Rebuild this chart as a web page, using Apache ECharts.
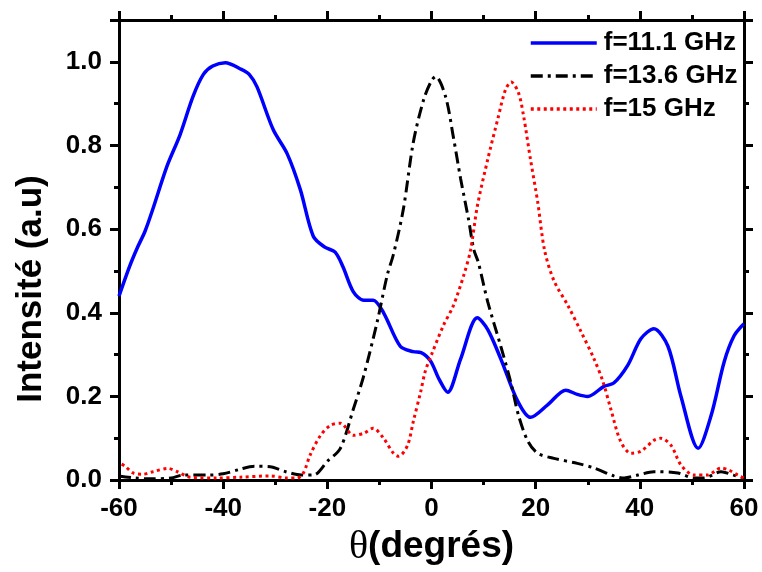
<!DOCTYPE html>
<html>
<head>
<meta charset="utf-8">
<script src="https://cdn.jsdelivr.net/npm/echarts@6/dist/echarts.min.js"></script>
<style>
html,body{margin:0;padding:0;background:#fff;}
#chart{width:762px;height:572px;}
</style>
</head>
<body>
<div id="chart"></div>
<script>
var seriesNames = ['f=11.1 GHz', 'f=13.6 GHz', 'f=15 GHz'];
var xTicks = [-60, -40, -20, 0, 20, 40, 60];
var yTicks = [0.0, 0.2, 0.4, 0.6, 0.8, 1.0];

var thetaA = [-60,-58,-56.5,-55,-53.5,-50.8,-48.3,-45.8,-43.8,-42,-39.6,-36.5,-35,-33.5,-30.4,-27.7,-25.2,-22.7,-20.5,-18.5,-17,-15,-13,-11.2,-9.2,-6,-3.5,-2,-0.2,1.5,3.1,5.6,8.8,10.8,13.3,16.5,19,22.3,25.8,28,30,33.1,35,37.7,40.2,42.7,45.4,47.9,51.2,53.7,56.2,58.1,60];
var valA = [0.44,0.51,0.555,0.595,0.648,0.75,0.825,0.917,0.97,0.99,0.998,0.982,0.97,0.94,0.838,0.78,0.695,0.583,0.557,0.545,0.51,0.45,0.43,0.43,0.40,0.32,0.307,0.305,0.285,0.24,0.21,0.29,0.388,0.36,0.29,0.19,0.15,0.18,0.215,0.205,0.2,0.224,0.232,0.275,0.338,0.362,0.32,0.2,0.076,0.155,0.283,0.345,0.374];

var thetaB = [-60,-57,-54,-50,-47.7,-43,-40,-37,-34,-31,-28,-25,-22.5,-20,-17.5,-15,-13,-10.4,-8.5,-7.3,-5.4,-3.5,-1.5,0,0.8,2.7,4.2,5.6,7.1,8.1,9,10.8,13.3,15.2,16.7,18.5,20.4,23.5,28,31.2,35,37,39.6,42.7,47.3,50.4,52.3,55.6,58,60];
var valB = [0.01,0.005,0.003,0.005,0.012,0.012,0.015,0.025,0.033,0.032,0.02,0.012,0.013,0.045,0.076,0.17,0.25,0.38,0.49,0.54,0.648,0.807,0.91,0.955,0.965,0.917,0.82,0.72,0.624,0.552,0.52,0.426,0.32,0.235,0.155,0.093,0.064,0.052,0.04,0.029,0.01,0.005,0.012,0.02,0.017,0.005,0.005,0.02,0.012,0.005];

var thetaC = [-59.5,-58.8,-57.3,-55.4,-53.5,-50.6,-48.8,-46.3,-41.2,-36.7,-31,-27.7,-25.8,-24.6,-23.3,-21.3,-19.4,-17.5,-15,-13,-11.2,-9.2,-7.3,-6.3,-4.6,-3.5,-2.1,-1.2,0,2.3,4.2,6.2,7.5,8.8,10.8,12.7,14.2,15.3,16.7,17.7,19,20.4,21.7,23.5,26.2,28.7,31.2,32.9,34.4,36.3,38.3,40.2,42.7,44,46,47.9,50.4,53,55.6,57.1,58.8,60];
var valC = [0.038,0.033,0.017,0.014,0.02,0.028,0.02,0.007,0.005,0.007,0.01,0.005,0.005,0.017,0.06,0.107,0.131,0.136,0.107,0.112,0.124,0.1,0.064,0.057,0.083,0.14,0.21,0.26,0.3,0.37,0.417,0.49,0.55,0.655,0.767,0.862,0.933,0.952,0.926,0.869,0.767,0.664,0.55,0.477,0.417,0.355,0.29,0.236,0.171,0.093,0.064,0.069,0.095,0.1,0.083,0.036,0.012,0.012,0.029,0.024,0.012,0.005];

function zip(xs, ys) { return xs.map(function (x, i) { return [x, ys[i]]; }); }

var FONT = 'Liberation Sans, Arial, sans-serif';
var chart = echarts.init(document.getElementById('chart'), null, {renderer: 'canvas'});

var axisLine = {show: true, onZero: false, lineStyle: {color: '#000', width: 3}};
var majorTick = {show: true, inside: false, length: 9, lineStyle: {color: '#000', width: 3}};
var minorTick = {show: true, splitNumber: 2, length: 5, lineStyle: {color: '#000', width: 3}};

var option = {
  backgroundColor: '#fff',
  animation: false,
  grid: {left: 119, right: 18, top: 20, bottom: 90, containLabel: false},
  legend: {
    data: seriesNames,
    orient: 'vertical',
    left: 524,
    top: 25,
    itemWidth: 66,
    itemHeight: 14,
    itemGap: 7,
    itemStyle: {opacity: 0},
    lineStyle: {width: 3.5},
    textStyle: {fontFamily: FONT, fontWeight: 'bold', fontSize: 26, color: '#000', padding: [0, 0, 0, 2]}
  },
  xAxis: [{
    type: 'value', min: -60, max: 60, interval: 20, position: 'bottom',
    axisLine: axisLine, axisTick: majorTick, minorTick: minorTick,
    splitLine: {show: false}, minorSplitLine: {show: false},
    axisLabel: {fontFamily: FONT, fontWeight: 'bold', fontSize: 26, color: '#000', margin: 16,
      formatter: function (v) { return xTicks.indexOf(v) >= 0 ? String(v) : ''; }},
    name: '{t|θ}{b|(degrés)}',
    nameLocation: 'middle',
    nameGap: 42,
    nameTextStyle: {rich: {
      t: {fontFamily: 'Liberation Serif, serif', fontSize: 40, color: '#000'},
      b: {fontFamily: FONT, fontWeight: 'bold', fontSize: 37, color: '#000'}
    }}
  }, {
    type: 'value', min: -60, max: 60, interval: 20, position: 'top',
    axisLine: axisLine, axisTick: majorTick, minorTick: minorTick,
    splitLine: {show: false}, axisLabel: {show: false}
  }],
  yAxis: [{
    type: 'value', min: 0, max: 1.1, interval: 0.2, position: 'left',
    axisLine: axisLine, axisTick: majorTick, minorTick: minorTick,
    splitLine: {show: false}, minorSplitLine: {show: false},
    axisLabel: {fontFamily: FONT, fontWeight: 'bold', fontSize: 26, color: '#000', margin: 17,
      showMaxLabel: false,
      formatter: function (v) {
        for (var i = 0; i < yTicks.length; i++) { if (Math.abs(yTicks[i] - v) < 1e-6) return yTicks[i].toFixed(1); }
        return '';
      }},
    name: 'Intensité (a.u)',
    nameLocation: 'middle',
    nameGap: 70,
    nameTextStyle: {fontFamily: FONT, fontWeight: 'bold', fontSize: 35, color: '#000', padding: [0, 78, 0, 0]}
  }, {
    type: 'value', min: 0, max: 1.1, interval: 0.2, position: 'right',
    axisLine: axisLine, axisTick: majorTick, minorTick: minorTick,
    splitLine: {show: false}, axisLabel: {show: false}
  }],
  series: [{
    name: seriesNames[0], type: 'line', data: zip(thetaA, valA), smooth: 0.3,
    symbol: 'none', color: '#0000ff',
    lineStyle: {color: '#0000ff', width: 3.5, type: 'solid'}
  }, {
    name: seriesNames[1], type: 'line', data: zip(thetaB, valB), smooth: 0.3,
    symbol: 'none', color: '#000000',
    lineStyle: {color: '#000000', width: 3, type: [12, 5, 3, 5]}
  }, {
    name: seriesNames[2], type: 'line', data: zip(thetaC, valC), smooth: 0.3,
    symbol: 'none', color: '#ff0000',
    lineStyle: {color: '#ff0000', width: 3, type: [3, 3.5]}
  }]
};
chart.setOption(option);
</script>
</body>
</html>
